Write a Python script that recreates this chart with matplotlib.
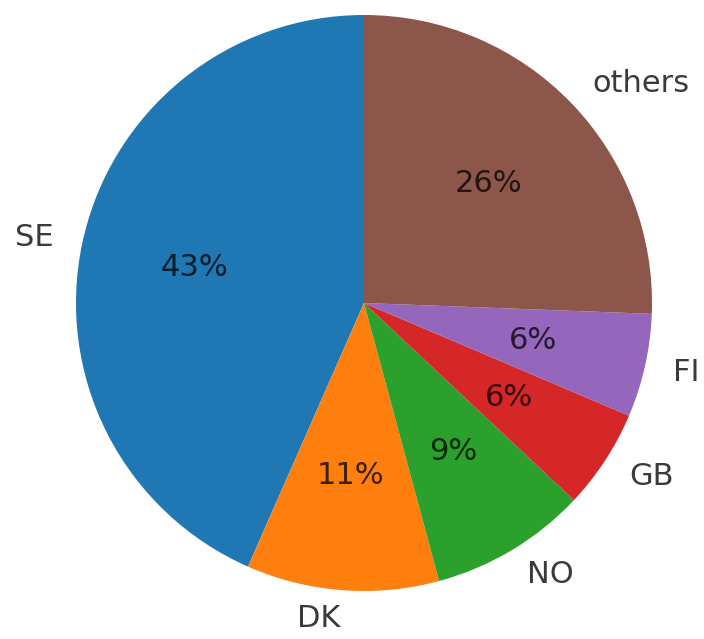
import matplotlib.pyplot as plt

# participação por país
paises = ['SE', 'DK', 'NO', 'GB', 'FI', 'others']
valores = [43.4, 10.8, 8.8, 5.6, 5.8, 25.6]

fig = plt.figure(figsize=(7.04, 6.39), dpi=100)
ax = fig.add_axes([(364 - 288) / 704, (639 - 303 - 288) / 639, 576 / 704, 576 / 639])

wedges, texts, autotexts = ax.pie(valores, labels=paises, autopct='%1.0f%%', startangle=90,
                                  textprops={'fontsize': 22})
for t in texts:
    t.set_color('#3a3a3a')
for t in autotexts:
    t.set_color('black')
    t.set_alpha(0.75)

ax.set_xlim(-1, 1)
ax.set_ylim(-1, 1)
ax.set_aspect('equal')

plt.savefig('out.png', dpi=100)
